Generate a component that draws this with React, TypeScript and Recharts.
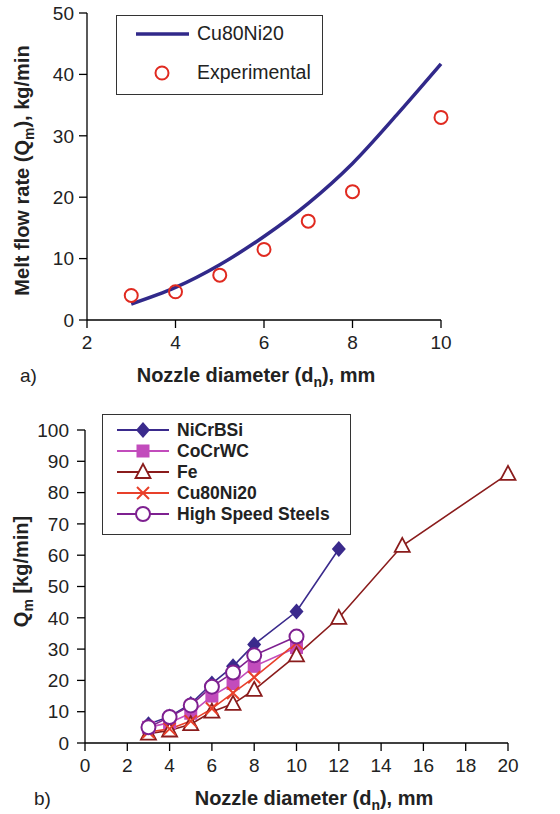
import React from 'react';
import { ComposedChart, LineChart, Line, Scatter, XAxis, YAxis, Legend } from 'recharts';

const FONT = '"Liberation Sans", Arial, Helvetica, sans-serif';

// panel a) model curve and measured points
const modelD = [3, 4, 5, 6, 7, 8, 9, 10];
const modelQ = [2.6, 5.3, 9.0, 13.6, 19.0, 25.5, 33.4, 41.7];
const expD = [3, 4, 5, 6, 7, 8, 10];
const expQ = [4.0, 4.6, 7.3, 11.5, 16.1, 20.9, 33.0];
const aTicksX = [2, 4, 6, 8, 10];
const aTicksY = [0, 10, 20, 30, 40, 50];

// panel b) alloys
const diameters = [3, 4, 5, 6, 7, 8, 10, 12, 15, 20];
const niCrBSi = [6, 8.5, 12.5, 19, 24.5, 31.5, 42, 62];
const coCrWC = [5, 6.5, 9.5, 15, 19, 24.5, 30.5];
const fe = [3, 4, 6, 10, 12.5, 17, 28, 40, 63, 86];
const cu80Ni20 = [3.5, 4.5, 7, 11, 16, 21, 32];
const hss = [5, 8.3, 12, 18, 22.5, 28, 34];
const bTicksX = [0, 2, 4, 6, 8, 10, 12, 14, 16, 18, 20];
const bTicksY = [0, 10, 20, 30, 40, 50, 60, 70, 80, 90, 100];

const seriesB = [
  { key: 'niCrBSi', name: 'NiCrBSi', values: niCrBSi, color: '#3a2a8c', marker: 'diamond' },
  { key: 'coCrWC', name: 'CoCrWC', values: coCrWC, color: '#c24cbc', marker: 'square' },
  { key: 'fe', name: 'Fe', values: fe, color: '#8a1c1c', marker: 'triangle' },
  { key: 'cu80Ni20', name: 'Cu80Ni20', values: cu80Ni20, color: '#e8402a', marker: 'cross' },
  { key: 'hss', name: 'High Speed Steels', values: hss, color: '#7e2090', marker: 'circle' },
];

const dataA = modelD.map((d, i) => ({ d, model: modelQ[i] }));
const expData = expD.map((d, i) => ({ d, exp: expQ[i] }));

const dataB = diameters.map((d, i) => {
  const row: any = { d };
  seriesB.forEach((s) => {
    if (i < s.values.length) row[s.key] = s.values[i];
  });
  return row;
});

function marker(kind: string, color: string, cx: number, cy: number, key?: React.Key) {
  switch (kind) {
    case 'diamond':
      return <path key={key} d={`M${cx},${cy - 8}L${cx + 7},${cy}L${cx},${cy + 8}L${cx - 7},${cy}Z`} fill={color} />;
    case 'square':
      return <rect key={key} x={cx - 6.5} y={cy - 6.5} width={13} height={13} fill={color} />;
    case 'triangle':
      return <path key={key} d={`M${cx},${cy - 8}L${cx + 7.5},${cy + 6}L${cx - 7.5},${cy + 6}Z`} fill="#fff" stroke={color} strokeWidth={1.8} />;
    case 'cross':
      return <path key={key} d={`M${cx - 6},${cy - 6}L${cx + 6},${cy + 6}M${cx + 6},${cy - 6}L${cx - 6},${cy + 6}`} stroke={color} strokeWidth={2} />;
    default:
      return <circle key={key} cx={cx} cy={cy} r={7} fill="#fff" stroke={color} strokeWidth={2} />;
  }
}

const axisProps = {
  stroke: '#000',
  strokeWidth: 1.3,
  tick: { fill: '#222', fontSize: 19, fontFamily: FONT },
  tickSize: 8,
};

const XTitle = (panel: string) => (props: any) => {
  const { y } = props.viewBox;
  const cx = panel === 'a' ? 256 : 314;
  return (
    <g fontFamily={FONT}>
      <text x={cx} y={y + 62} textAnchor="middle" fontWeight="bold" fontSize={20} fill="#222">
        Nozzle diameter (d<tspan dy={5} fontSize={14}>n</tspan><tspan dy={-5}>), mm</tspan>
      </text>
      <text x={panel === 'a' ? 20 : 34} y={y + 62} fontSize={19} fill="#222">{panel})</text>
    </g>
  );
};

const YTitleA = (props: any) => {
  const { y, height } = props.viewBox;
  const cx = 29;
  const cy = y + height / 2 + 4;
  return (
    <text x={cx} y={cy} transform={`rotate(-90, ${cx}, ${cy})`} textAnchor="middle" fontWeight="bold" fontSize={20} fill="#222" fontFamily={FONT}>
      Melt flow rate (Q<tspan dy={5} fontSize={14}>m</tspan><tspan dy={-5}>), kg/min</tspan>
    </text>
  );
};

const YTitleB = (props: any) => {
  const { y, height } = props.viewBox;
  const cx = 28;
  const cy = y + height / 2 - 15;
  return (
    <text x={cx} y={cy} transform={`rotate(-90, ${cx}, ${cy})`} textAnchor="middle" fontWeight="bold" fontSize={20} fill="#222" fontFamily={FONT}>
      Q<tspan dy={5} fontSize={14}>m</tspan><tspan dy={-5}> [kg/min]</tspan>
    </text>
  );
};

const LegendA = () => (
  <div style={{ width: 207, height: 80, border: '1.3px solid #333', boxSizing: 'border-box', background: '#fff', position: 'relative', fontFamily: FONT, fontSize: 19.5, color: '#222' }}>
    <svg width={205} height={78} style={{ position: 'absolute', left: 0, top: 0 }}>
      <line x1={19} x2={72} y1={18} y2={18} stroke="#31298a" strokeWidth={3.5} />
      <circle cx={45} cy={57} r={6.5} fill="none" stroke="#e02a20" strokeWidth={2} />
    </svg>
    <div style={{ position: 'absolute', left: 80, top: 6 }}>Cu80Ni20</div>
    <div style={{ position: 'absolute', left: 80, top: 45 }}>Experimental</div>
  </div>
);

const LegendB = () => (
  <div style={{ width: 249, height: 121, border: '1.3px solid #333', boxSizing: 'border-box', background: '#fff', position: 'relative', fontFamily: FONT, fontSize: 17.5, fontWeight: 'bold', color: '#222' }}>
    <svg width={247} height={119} style={{ position: 'absolute', left: 0, top: 0 }}>
      {seriesB.map((s, i) => (
        <g key={s.key}>
          <line x1={14} x2={66} y1={15 + i * 21} y2={15 + i * 21} stroke={s.color} strokeWidth={1.8} />
          {marker(s.marker, s.color, 40, 15 + i * 21)}
        </g>
      ))}
    </svg>
    {seriesB.map((s, i) => (
      <div key={s.key} style={{ position: 'absolute', left: 74, top: 5 + i * 21, lineHeight: '20px' }}>{s.name}</div>
    ))}
  </div>
);

export default function App() {
  return (
    <div style={{ position: 'absolute', left: 0, top: 0, width: 560, height: 814, background: '#fff', fontFamily: FONT }}>
      <div style={{ position: 'absolute', left: 0, top: 0 }}>
        <ComposedChart width={560} height={400} data={dataA} margin={{ top: 13, right: 119, left: 0, bottom: 50 }}>
          <XAxis dataKey="d" type="number" domain={[2, 10]} ticks={aTicksX} height={30} tickMargin={8} label={{ content: XTitle('a') }} {...axisProps} />
          <YAxis type="number" domain={[0, 50]} ticks={aTicksY} width={87} tickMargin={5} label={{ content: YTitleA }} {...axisProps} />
          <Legend layout="vertical" align="center" verticalAlign="middle" content={LegendA} wrapperStyle={{ left: 116, top: 15, width: 207, height: 80 }} />
          <Line dataKey="model" name="Cu80Ni20" type="monotone" stroke="#31298a" strokeWidth={3.5} dot={false} activeDot={false} isAnimationActive={false} />
          <Scatter data={expData} dataKey="exp" name="Experimental" isAnimationActive={false}
            shape={(p: any) => <circle cx={p.cx} cy={p.cy} r={6.5} fill="none" stroke="#e02a20" strokeWidth={2} />} />
        </ComposedChart>
      </div>
      <div style={{ position: 'absolute', left: 0, top: 400 }}>
        <LineChart width={560} height={414} data={dataB} margin={{ top: 30, right: 52, left: 0, bottom: 41 }}>
          <XAxis dataKey="d" type="number" domain={[0, 20]} ticks={bTicksX} height={30} tickMargin={8} label={{ content: XTitle('b') }} {...axisProps} />
          <YAxis type="number" domain={[0, 100]} ticks={bTicksY} width={85} tickMargin={8} label={{ content: YTitleB }} {...axisProps} />
          <Legend layout="vertical" align="center" verticalAlign="middle" content={LegendB} wrapperStyle={{ left: 102, top: 14, width: 249, height: 121 }} />
          {seriesB.map((s) => (
            <Line key={s.key} dataKey={s.key} name={s.name} type="linear" stroke={s.color} strokeWidth={1.6}
              activeDot={false} isAnimationActive={false}
              dot={(p: any) => (p.cy == null || p.value == null ? <g key={p.index} /> : marker(s.marker, s.color, p.cx, p.cy, p.index))} />
          ))}
        </LineChart>
      </div>
    </div>
  );
}
